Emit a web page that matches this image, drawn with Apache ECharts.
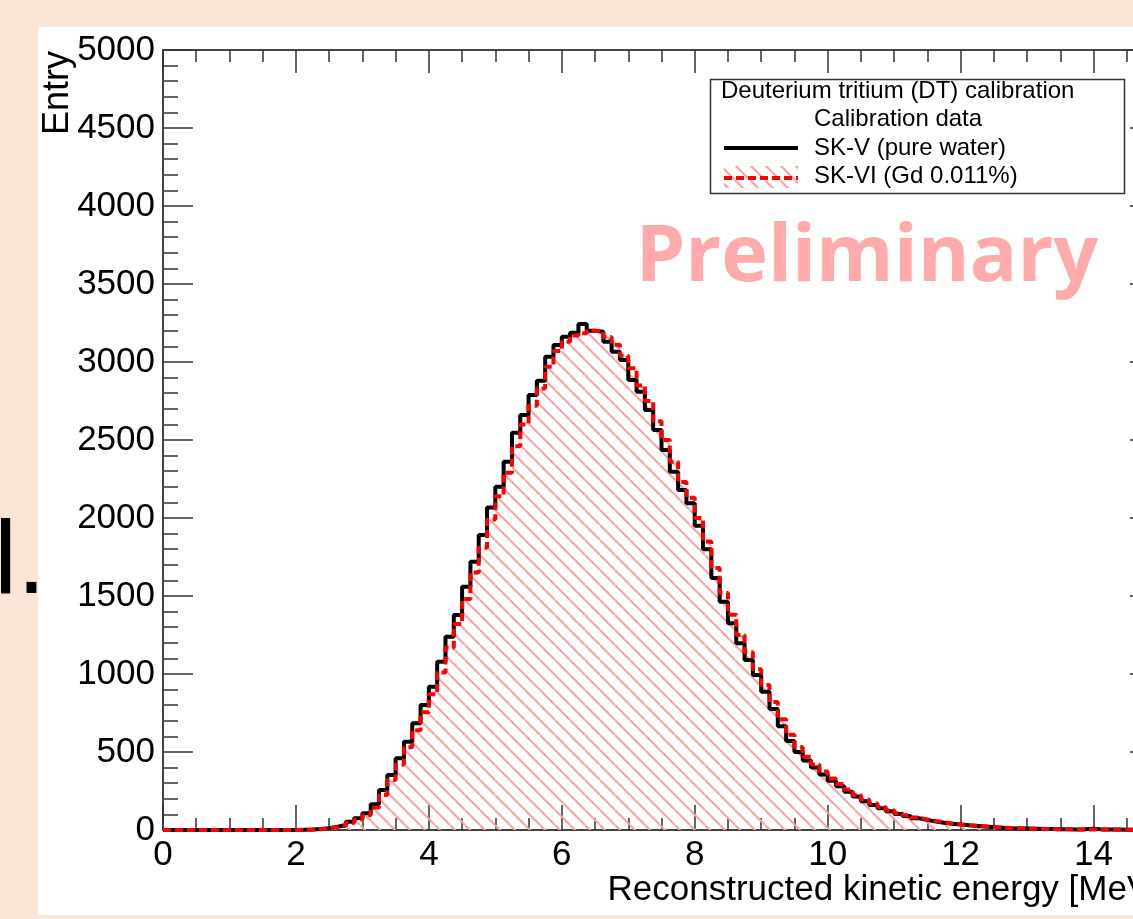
<!DOCTYPE html>
<html><head><meta charset="utf-8">
<script src="https://cdn.jsdelivr.net/npm/echarts@6/dist/echarts.min.js"></script>
<style>
html,body{margin:0;padding:0;background:#fbe5d6;width:1133px;height:919px;overflow:hidden;position:relative}
#panel{position:absolute;left:38px;top:27px;width:1095px;height:888px;background:#ffffff}
#chart{position:absolute;left:0;top:0;width:1200px;height:919px}
</style></head><body>
<div id="panel"></div><div id="chart"></div>
<script>
// ---- data ----
const binWidth = 0.125;             // MeV per bin, 120 bins from 0 to 15
const xRange = [0, 15];
const xTickValues = [0, 2, 4, 6, 8, 10, 12, 14];
const yTickValues = [0, 500, 1000, 1500, 2000, 2500, 3000, 3500, 4000, 4500, 5000];
const legendLines = ['Deuterium tritium (DT) calibration', 'Calibration data', 'SK-V (pure water)', 'SK-VI (Gd 0.011%)'];

// SK-V (pure water), entries per bin
const skV = [
  0,0,0,0,0,0,0,0,0,0,0,0,0,0,0,0,
  1,3,6,12,21,32,53,75,108,165,256,352,460,566,684,801,
  919,1079,1239,1378,1560,1720,1891,2068,2201,2361,2547,2660,2788,2880,3034,3109,
  3162,3188,3244,3201,3194,3130,3066,3013,2885,2810,2692,2564,2436,2297,2179,2094,
  1950,1800,1615,1463,1325,1197,1090,994,887,775,665,570,500,445,400,355,
  315,280,245,215,185,160,140,120,103,90,75,65,55,47,40,35,
  30,26,22,18,15,12,10,9,8,7,6,5,5,4,5,8,
  4,3,3,2,2,2,1,1
];
// SK-VI (Gd 0.011%), entries per bin
const skVI = [
  0,0,0,0,0,0,0,0,0,0,0,0,0,0,0,0,
  1,2,5,10,18,28,45,68,95,145,225,320,420,530,640,755,
  870,1010,1170,1320,1480,1650,1810,1990,2140,2290,2460,2600,2720,2830,2970,3070,
  3130,3170,3185,3200,3195,3160,3110,3040,2960,2850,2750,2620,2500,2360,2230,2130,
  2000,1850,1680,1520,1380,1250,1140,1030,930,820,710,610,530,470,420,375,
  330,295,260,225,195,170,148,127,108,94,80,68,58,50,42,36,
  31,27,23,19,16,13,11,9,8,7,6,5,5,4,4,3,
  3,3,2,2,2,1,1,1
];

// ---- build ----
function steps(vals){
  const pts = vals.map((v,i)=>[i*binWidth, v]);
  pts.push([vals.length*binWidth, vals[vals.length-1]]);
  return pts;
}
function makeHatch(){
  const s = 15, c = document.createElement('canvas');
  c.width = s; c.height = s;
  const g = c.getContext('2d');
  g.strokeStyle = '#ffa0a0'; g.lineWidth = 2;
  for (const off of [-s, 0, s]) { g.beginPath(); g.moveTo(0, off); g.lineTo(s, s+off); g.stroke(); }
  return c;
}
const hatch = makeHatch();
const FONT = '"Liberation Sans", Arial, sans-serif';
const tickCol = '#333';

function axisCommon(extra){
  return Object.assign({
    type:'value', splitLine:{show:false},
    axisLine:{show:true, onZero:false, lineStyle:{color:'#444', width:2}},
  }, extra);
}

const chart = echarts.init(document.getElementById('chart'), null, {renderer:'canvas'});
const option = {
  animation:false,
  backgroundColor:'transparent',
  grid:{left:163, top:50, right:40, bottom:89, containLabel:false},
  xAxis:[
    axisCommon({min:xRange[0], max:xRange[1], interval:2, position:'bottom',
      axisTick:{inside:true, length:25, lineStyle:{color:tickCol, width:1.5}},
      minorTick:{show:true, splitNumber:4, length:12, lineStyle:{color:tickCol, width:1.5}},
      axisLabel:{show:true, fontSize:35, color:'#000', fontFamily:FONT, margin:8, showMaxLabel:false,
        formatter:(v)=> xTickValues.includes(v) ? String(v) : ''}}),
    axisCommon({min:xRange[0], max:xRange[1], interval:2, position:'top',
      axisTick:{inside:true, length:23, lineStyle:{color:tickCol, width:1.5}},
      minorTick:{show:true, splitNumber:4, length:12, lineStyle:{color:tickCol, width:1.5}},
      axisLabel:{show:false}})
  ],
  yAxis:[
    axisCommon({min:0, max:5000, interval:500, position:'left',
      axisTick:{inside:true, length:30, lineStyle:{color:tickCol, width:1.5}},
      minorTick:{show:true, splitNumber:5, length:15, lineStyle:{color:tickCol, width:1.5}},
      axisLabel:{show:true, fontSize:35, color:'#000', fontFamily:FONT, margin:8,
        formatter:(v)=> yTickValues.includes(v) ? String(v) : ''}}),
    axisCommon({min:0, max:5000, interval:500, position:'right',
      axisTick:{inside:true, length:30, lineStyle:{color:tickCol, width:1.5}},
      minorTick:{show:true, splitNumber:5, length:15, lineStyle:{color:tickCol, width:1.5}},
      axisLabel:{show:false}})
  ],
  series:[
    {type:'line', name:'SK-VI fill', data:steps(skVI), step:'end', symbol:'none', silent:true, z:1,
      lineStyle:{opacity:0}, areaStyle:{color:{image:hatch, repeat:'repeat'}, opacity:1, origin:'start'}},
    {type:'line', name:'SK-V (pure water)', data:steps(skV), step:'end', symbol:'none', silent:true, z:2,
      lineStyle:{color:'#000', width:4}},
    {type:'line', name:'SK-VI (Gd 0.011%)', data:steps(skVI), step:'end', symbol:'none', silent:true, z:3,
      lineStyle:{color:'#ff0000', width:4, type:[8,4]}}
  ],
  graphic:[
    {type:'text', x:46, y:616, z:50, silent:true,
      style:{text:'l.', font:'104px "Liberation Sans", sans-serif', fill:'#000', align:'right', textAlign:'right', verticalAlign:'bottom', textVerticalAlign:'bottom'}},
    {type:'text', x:58, y:93, rotation:Math.PI/2, z:50, silent:true,
      style:{text:'Entry', font:'36px '+FONT, fill:'#000', align:'center', textAlign:'center', verticalAlign:'middle', textVerticalAlign:'middle'}},
    {type:'text', x:1160, y:890, z:50, silent:true,
      style:{text:'Reconstructed kinetic energy [MeV]', font:'35px '+FONT, fill:'#000', align:'right', textAlign:'right', verticalAlign:'middle', textVerticalAlign:'middle'}},
    {type:'text', x:867, y:258, z:50, silent:true,
      style:{text:'Preliminary', font:'bold 79px "Open Sans", sans-serif', fill:'#ffabab', align:'center', textAlign:'center', verticalAlign:'middle', textVerticalAlign:'middle'}},
    // legend box
    {type:'rect', z:60, silent:true, shape:{x:710.5, y:79.5, width:414, height:114},
      style:{fill:'#fff', stroke:'#333', lineWidth:1.5}},
    {type:'text', x:721, y:91, z:61, silent:true,
      style:{text:legendLines[0], font:'24px '+FONT, fill:'#000', verticalAlign:'middle', textVerticalAlign:'middle'}},
    {type:'text', x:814, y:119, z:61, silent:true,
      style:{text:legendLines[1], font:'24px '+FONT, fill:'#000', verticalAlign:'middle', textVerticalAlign:'middle'}},
    {type:'text', x:814, y:148, z:61, silent:true,
      style:{text:legendLines[2], font:'24px '+FONT, fill:'#000', verticalAlign:'middle', textVerticalAlign:'middle'}},
    {type:'text', x:814, y:176, z:61, silent:true,
      style:{text:legendLines[3], font:'24px '+FONT, fill:'#000', verticalAlign:'middle', textVerticalAlign:'middle'}},
    {type:'line', z:61, silent:true, shape:{x1:724, y1:148, x2:798, y2:148}, style:{stroke:'#000', lineWidth:4}},
    {type:'rect', z:61, silent:true, shape:{x:724, y:166, width:74, height:22},
      style:{fill:{image:hatch, repeat:'repeat'}}},
    {type:'line', z:62, silent:true, shape:{x1:724, y1:178, x2:798, y2:178}, style:{stroke:'#ff0000', lineWidth:4, lineDash:[8,4]}}
  ]
};
chart.setOption(option);
</script>
</body></html>
